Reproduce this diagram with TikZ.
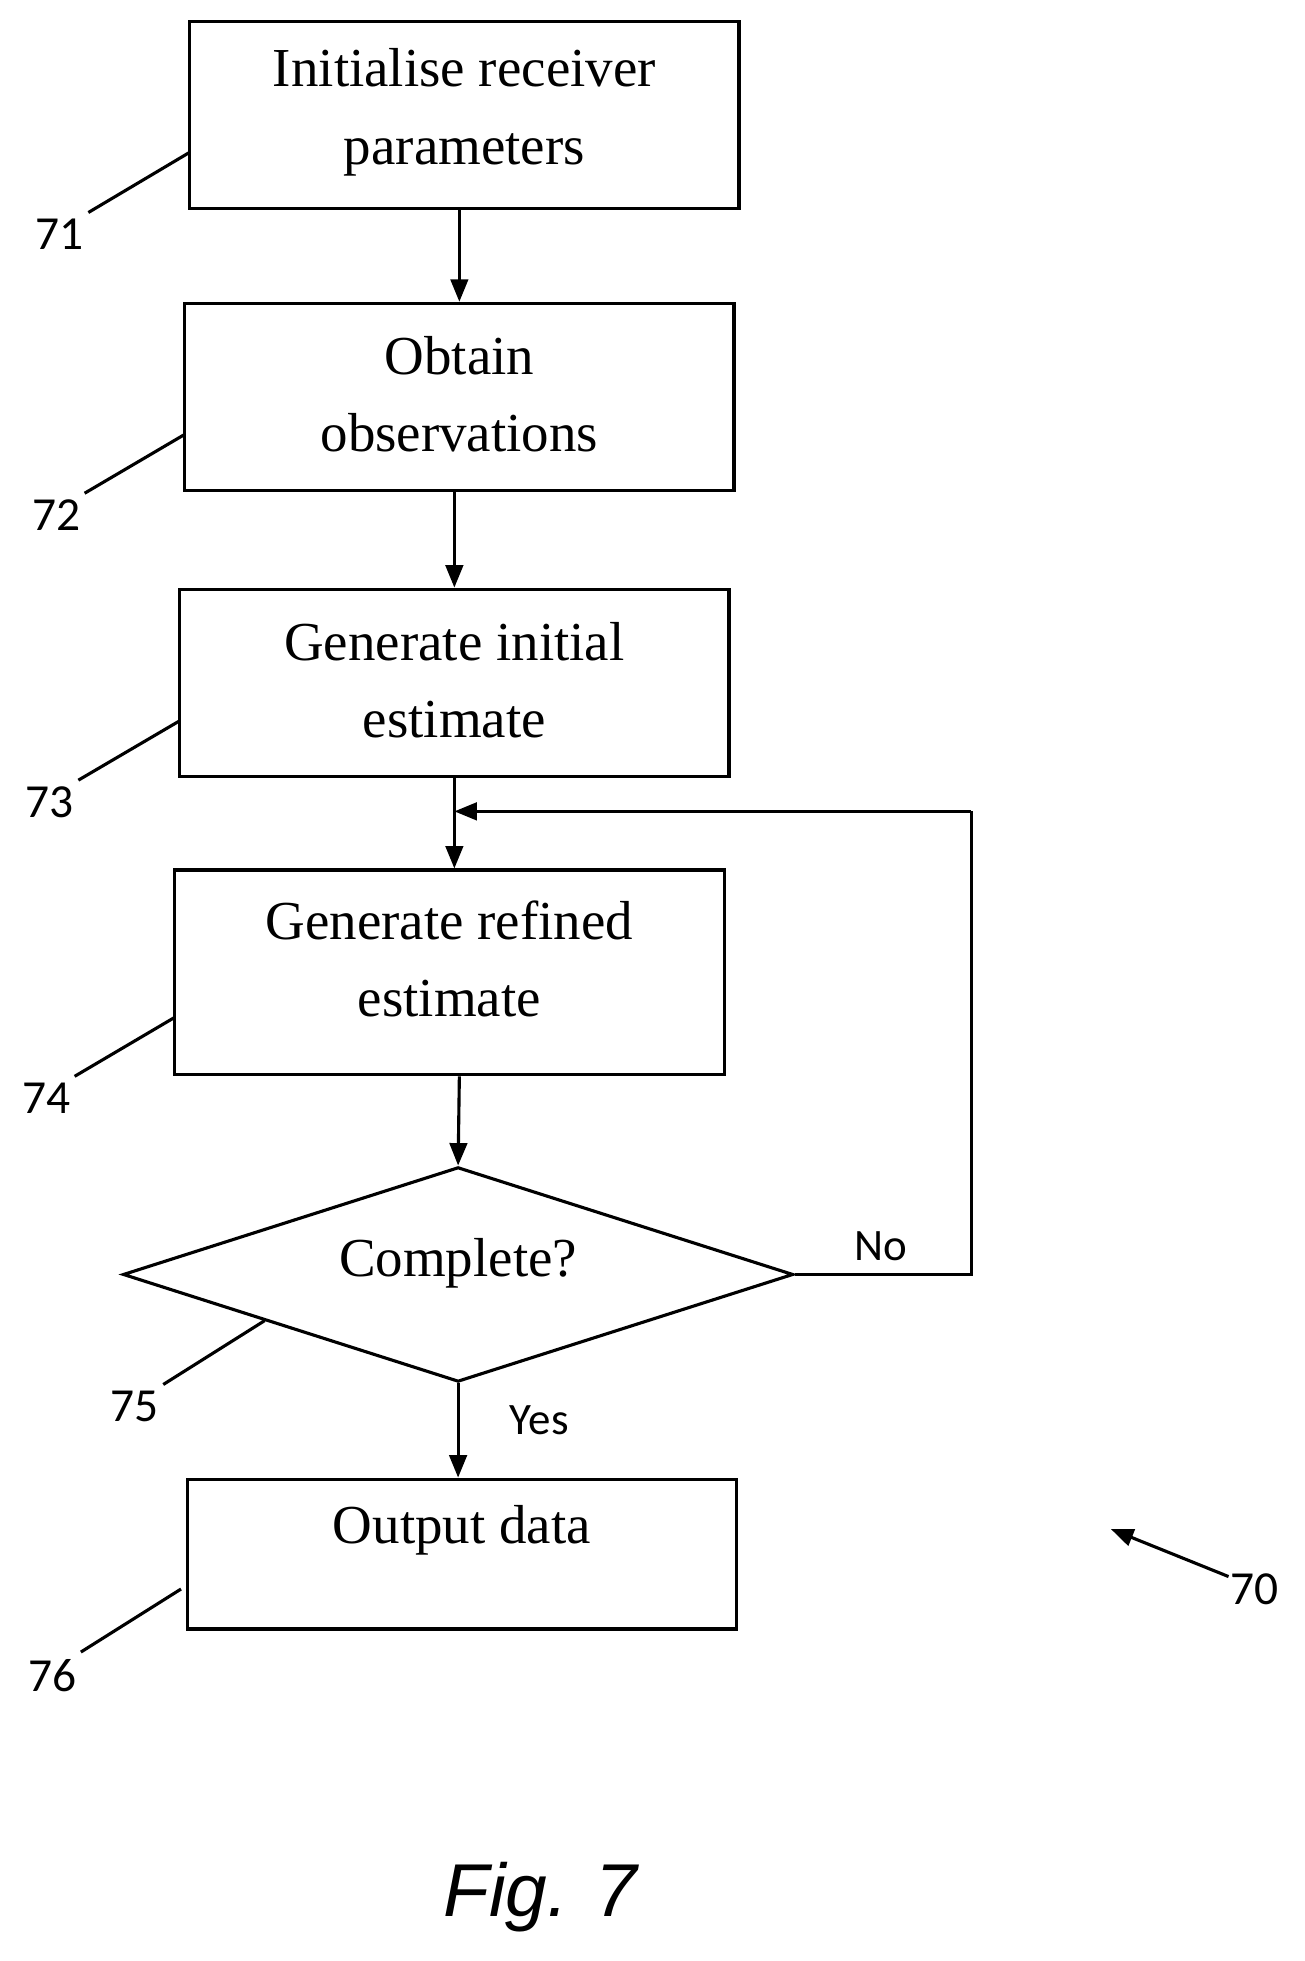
\documentclass[tikz,border=0pt]{standalone}
\usepackage{fontspec}
\setmainfont{Liberation Serif}
\newfontfamily\lbl{Carlito}
\newfontfamily\figf{Liberation Sans}
\usetikzlibrary{shapes.geometric,arrows.meta}
\begin{document}
\begin{tikzpicture}[x=1pt,y=-1pt,
  box/.style={draw,line width=2.5pt,minimum width=440pt,inner sep=0pt},
  txt/.style={font=\fontsize{44}{62}\selectfont,align=center},
  arr/.style={line width=2.5pt,-{Triangle[length=18pt,width=14pt]}},
  lead/.style={line width=2.5pt},
  num/.style={font=\lbl\fontsize{38}{40}\selectfont},
  yn/.style={font=\lbl\fontsize{36}{40}\selectfont}]
\useasboundingbox (0,0) rectangle (1045,1571);
\node[box,minimum height=150pt] (b1) at (372,92) {};
\node[txt] (t1) at (372,90) {Initialise receiver\\parameters};
\node[box,minimum height=150pt] (b2) at (368,318) {};
\node[txt] (t2) at (368,316) {Obtain\\observations};
\node[box,minimum height=150pt] (b3) at (364,547) {};
\node[txt] (t3) at (364,545) {Generate initial\\estimate};
\node[box,minimum height=164pt,minimum width=441pt] (b4) at (360,779) {};
\node[txt] (t4) at (360,768) {Generate refined\\estimate};
\node[draw,line width=2.5pt,diamond,minimum width=537pt,minimum height=172pt,inner sep=0pt] (d) at (367,1021) {};
\node[txt] (t5) at (367,1012) {Complete?};
\node[box,minimum height=120pt] (b5) at (370,1245) {};
\node[txt] (t6) at (370,1226) {Output data};
\draw[arr] (b1.south -| 368,0) -- (b2.north -| 368,0);
\draw[arr] (b2.south -| 364,0) -- (b3.north -| 364,0);
\draw[arr] (b3.south -| 364,0) -- (b4.north -| 364,0);
\draw[arr] (b4.south -| 368,0) -- (d.north);
\draw[arr] (d.south) -- (b5.north -| d.south);
\coordinate (c1) at (778,1021);
\coordinate (c2) at (778,650);
\coordinate (c3) at (364,650);
\draw[line width=2.5pt] (d.east) -- (c1) -- (c2);
\draw[arr] (c2) -- (c3);
\node[yn] (no) at (706,998) {No};
\node[yn] (yes) at (432,1138) {Yes};
\node[num] (n71) at (48,188) {71}; \coordinate (e71) at (152,122); \draw[lead] (n71.north east) ++(0,-2) -- (e71);
\node[num] (n72) at (45,413) {72}; \coordinate (e72) at (148,348); \draw[lead] (n72.north east) ++(0,-2) -- (e72);
\node[num] (n73) at (40,643) {73}; \coordinate (e73) at (143,578); \draw[lead] (n73.north east) ++(0,-2) -- (e73);
\node[num] (n74) at (37,880) {74}; \coordinate (e74) at (140,815); \draw[lead] (n74.north east) ++(0,-2) -- (e74);
\node[num] (n75) at (108,1127) {75}; \coordinate (e75) at (212,1058); \draw[lead] (n75.north east) ++(0,-2) -- (e75);
\node[num] (n76) at (42,1342) {76}; \coordinate (e76) at (145,1273); \draw[lead] (n76.north east) ++(0,-2) -- (e76);
\node[num] (n70) at (1005,1273) {70}; \coordinate (e70) at (890,1225);
\draw[arr] (n70.north west) ++(2,6) -- (e70);
\node[font=\figf\itshape\fontsize{60}{64}\selectfont] (fig) at (433,1520) {Fig. 7};
\end{tikzpicture}
\end{document}
